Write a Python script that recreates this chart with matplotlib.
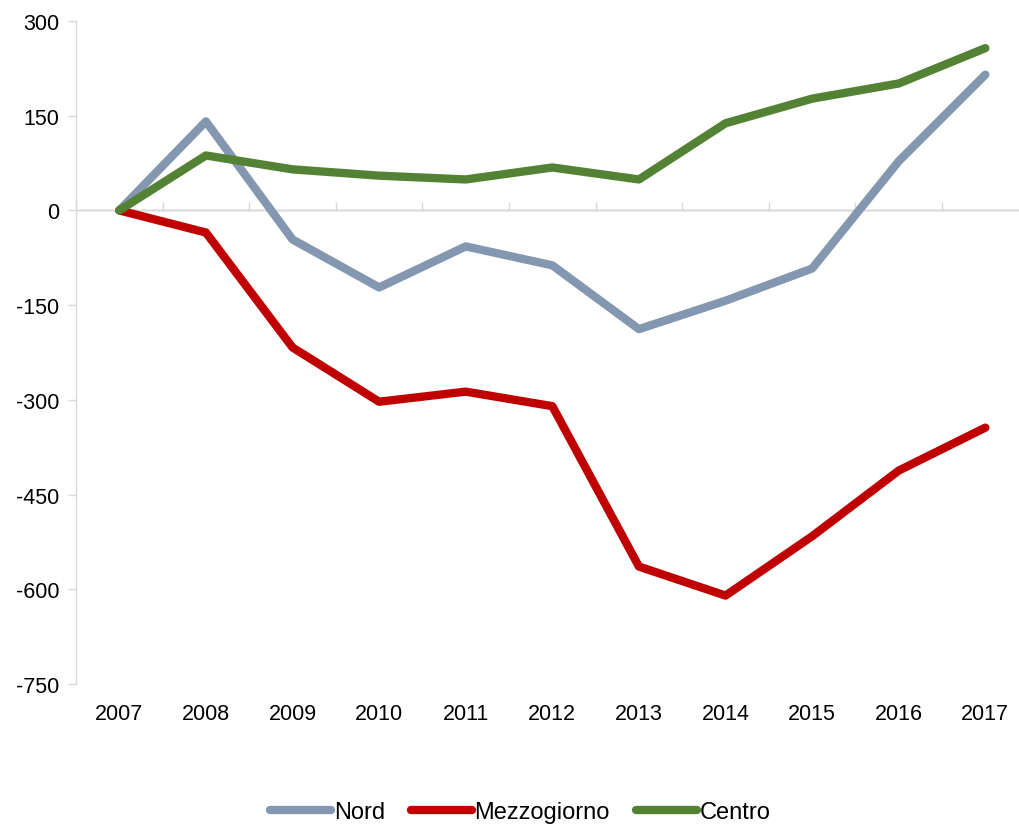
import numpy as np
import matplotlib.pyplot as plt
from matplotlib import font_manager

# Data
years = ['2007', '2008', '2009', '2010', '2011', '2012', '2013', '2014', '2015', '2016', '2017']
nord = [0, 141, -46, -122, -57, -87, -188, -143, -92, 78, 215]
mezzogiorno = [0, -35, -217, -303, -287, -310, -564, -610, -516, -412, -344]
centro = [0, 87, 65, 55, 49, 68, 49, 138, 177, 201, 257]
y_ticks = [300, 150, 0, -150, -300, -450, -600, -750]

names = [f.name for f in font_manager.fontManager.ttflist]
fam = 'Liberation Sans Narrow' if 'Liberation Sans Narrow' in names else 'Liberation Sans'
plt.rcParams['font.family'] = [fam, 'DejaVu Sans']

fig = plt.figure(figsize=(10.2, 8.29), dpi=100)
ax = fig.add_axes([0.0745, 0.1737, 0.9255, 0.7998])

x = np.arange(len(years))
lw = 6.0
ax.plot(x, nord, color='#8497B0', lw=lw, solid_capstyle='round', solid_joinstyle='round', label='Nord', zorder=3)
ax.plot(x, mezzogiorno, color='#C00000', lw=lw, solid_capstyle='round', solid_joinstyle='round', label='Mezzogiorno', zorder=3)
ax.plot(x, centro, color='#548235', lw=lw, solid_capstyle='round', solid_joinstyle='round', label='Centro', zorder=4)

ax.set_xlim(-0.5, len(years) - 0.6)
ax.set_ylim(-750, 300)
ax.set_yticks(y_ticks)
ax.set_yticklabels([str(v) for v in y_ticks])
ax.set_xticks(x)
ax.set_xticklabels(years)

for s in ['top', 'right', 'bottom']:
    ax.spines[s].set_visible(False)
ax.spines['left'].set_color('#d9d9d9')
ax.spines['left'].set_linewidth(1.0)
ax.tick_params(axis='y', colors='#d9d9d9', labelcolor='black', length=6, width=1.0, labelsize=15.5, pad=6)
ax.tick_params(axis='x', length=0, labelsize=15.5, pad=14)

# zero line with category boundary ticks
ax.axhline(0, color='#d9d9d9', lw=1.0, zorder=1)
zero_frac = (0 - (-750)) / (300 - (-750))
sec = ax.secondary_xaxis(zero_frac)
sec.spines['bottom'].set_visible(False)
sec.set_xticks(np.arange(-0.5, len(years), 1.0))
sec.set_xticklabels([])
sec.tick_params(axis='x', colors='#d9d9d9', length=6, width=1.0, direction='out')

fig.legend(loc='lower center', bbox_to_anchor=(0.51, -0.02), ncol=3, frameon=False,
           fontsize=17, handlelength=2.6, handletextpad=0.1, columnspacing=1.1)

fig.savefig('out.png', dpi=100)
